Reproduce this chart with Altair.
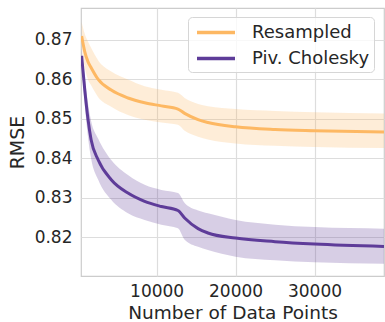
import altair as alt
import pandas as pd

series_names = ["Resampled", "Piv. Cholesky"]
colors = ["#fdb863", "#5e3c99"]

x_points = [500, 900, 1300, 1700, 2600, 4250, 6370, 8480, 10600, 12700, 13550, 15250, 16500, 20000, 25000, 30000, 38800]

res_mean = [0.8710, 0.8670, 0.8645, 0.8630, 0.8600, 0.8573, 0.8553, 0.8541, 0.8533, 0.8525, 0.8514, 0.8498, 0.8491, 0.8480, 0.8473, 0.8470, 0.8467]
res_hi = [0.8745, 0.8715, 0.8696, 0.8680, 0.8648, 0.8620, 0.8600, 0.8583, 0.8574, 0.8566, 0.8553, 0.8538, 0.8532, 0.8525, 0.8520, 0.8517, 0.8514]
res_lo = [0.8680, 0.8630, 0.8600, 0.8585, 0.8555, 0.8531, 0.8510, 0.8498, 0.8491, 0.8485, 0.8470, 0.8455, 0.8448, 0.8438, 0.8432, 0.8429, 0.8426]

chol_mean = [0.8660, 0.8573, 0.8500, 0.8447, 0.8396, 0.8346, 0.8312, 0.8291, 0.8278, 0.8268, 0.8249, 0.8222, 0.8211, 0.8198, 0.8189, 0.8183, 0.8177]
chol_hi = [0.8678, 0.8605, 0.8540, 0.8495, 0.8450, 0.8396, 0.8358, 0.8333, 0.8320, 0.8312, 0.8287, 0.8268, 0.8261, 0.8244, 0.8232, 0.8226, 0.8222]
chol_lo = [0.8640, 0.8535, 0.8455, 0.8400, 0.8346, 0.8295, 0.8261, 0.8244, 0.8232, 0.8223, 0.8194, 0.8176, 0.8168, 0.8151, 0.8142, 0.8137, 0.8133]

x_ticks = [10000, 20000, 30000]
y_ticks = [0.82, 0.83, 0.84, 0.85, 0.86, 0.87]

rows = []
for name, m, lo, hi in [(series_names[0], res_mean, res_lo, res_hi),
                        (series_names[1], chol_mean, chol_lo, chol_hi)]:
    for xv, mv, lv, hv in zip(x_points, m, lo, hi):
        rows.append({"x": xv, "y": mv, "lo": lv, "hi": hv, "series": name})
df = pd.DataFrame(rows)

FONT = "DejaVu Sans"
TXT = "#262626"

xscale = alt.Scale(domain=[420, 38800], nice=False, zero=False)
yscale = alt.Scale(domain=[0.8102, 0.8781], nice=False, zero=False)
cscale = alt.Scale(domain=series_names, range=colors)

legend = alt.Legend(title=None, orient="none", legendX=107, legendY=9,
                    symbolType="M-0.684,0H3.316", symbolSize=361, symbolOpacity=1,
                    symbolStrokeWidth=3.5, labelFontSize=18,
                    labelOffset=37, padding=4, rowPadding=5,
                    fillColor="rgba(255,255,255,0.8)",
                    strokeColor="#d6d6d6", cornerRadius=4,
                    labelColor=TXT, labelFont=FONT)

xaxis = alt.Axis(title="Number of Data Points", values=x_ticks, format="d",
                 labelFontSize=17, titleFontSize=18.5, labelPadding=7,
                 titleBaseline="alphabetic", titleY=42,
                 ticks=False, domain=False,
                 gridColor="#dddddd", gridWidth=1.2)
yaxis = alt.Axis(title="RMSE", values=y_ticks, format=".2f",
                 labelFontSize=17, titleFontSize=19, labelPadding=9,
                 titleX=-63.5, titleBaseline="middle",
                 ticks=False, domain=False,
                 gridColor="#dddddd", gridWidth=1.2)

base = alt.Chart(df)

band = base.mark_area(opacity=0.25, interpolate="monotone", clip=True).encode(
    x=alt.X("x:Q", scale=xscale, axis=xaxis),
    y=alt.Y("lo:Q", scale=yscale, axis=yaxis),
    y2="hi:Q",
    color=alt.Color("series:N", scale=cscale, sort=series_names, legend=legend),
)

line = base.mark_line(strokeWidth=3, interpolate="monotone", clip=True).encode(
    x=alt.X("x:Q", scale=xscale, axis=xaxis),
    y=alt.Y("y:Q", scale=yscale, axis=yaxis),
    color=alt.Color("series:N", scale=cscale, sort=series_names, legend=legend),
)

chart = (band + line).properties(
    width=303, height=268,
    padding={"left": 81, "top": 8, "right": 1, "bottom": 46},
    autosize=alt.AutoSizeParams(type="none"),
).configure(font=FONT).configure_axis(
    labelColor=TXT, titleColor=TXT, labelFont=FONT, titleFont=FONT, titleFontWeight="normal",
).configure_view(stroke="#cccccc", strokeWidth=1.2)

chart.save("out.html", embed_options={"renderer": "svg", "actions": False})
